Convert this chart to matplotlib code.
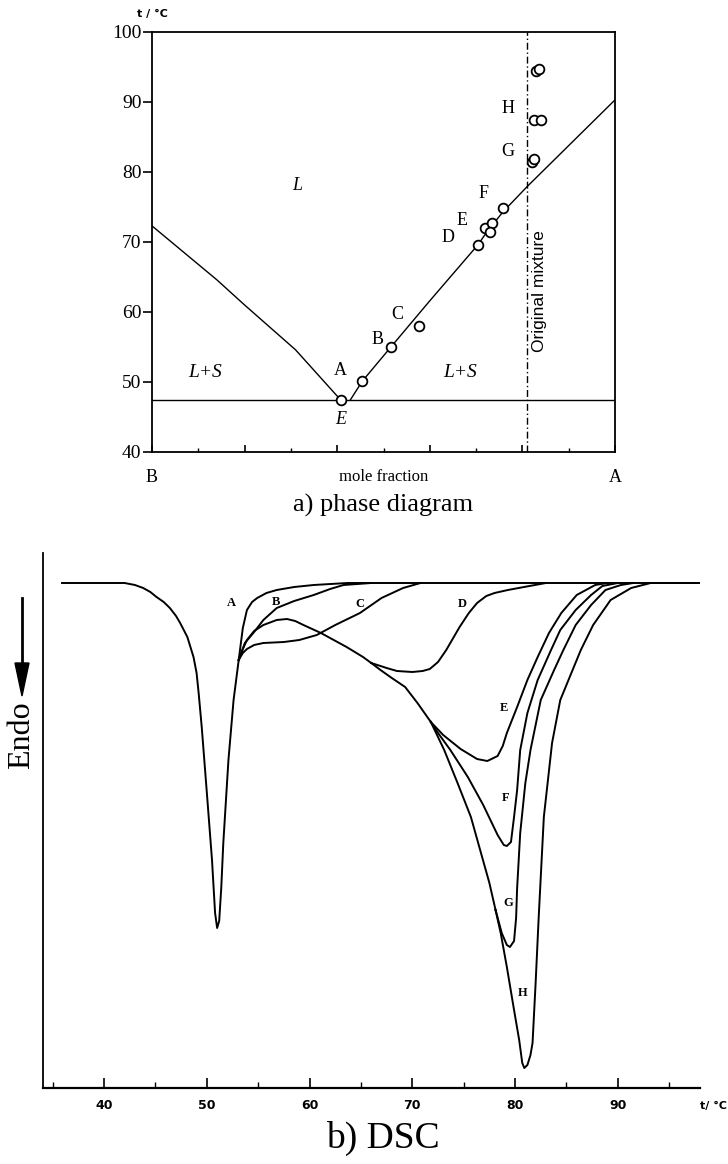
import matplotlib
matplotlib.use("Agg")
import matplotlib.pyplot as plt
from matplotlib.ticker import MultipleLocator

# ---------------- data: phase diagram ----------------
yticks_pd = [40, 50, 60, 70, 80, 90, 100]
liq_left_x = [0.0, 0.14, 0.20, 0.31, 0.408]
liq_left_t = [72.3, 64.6, 61.0, 54.6, 47.4]
liq_right_x = [0.428, 0.454, 0.516, 0.60, 0.704, 0.725, 0.758, 0.81, 1.0]
liq_right_t = [47.4, 50.1, 55.0, 61.6, 69.6, 71.6, 74.3, 77.9, 90.3]
eutectic_t = 47.4
original_x = 0.81
pts_x = [0.408, 0.454, 0.516, 0.577, 0.704, 0.720, 0.735, 0.731, 0.758,
         0.820, 0.824, 0.826, 0.840, 0.829, 0.836]
pts_t = [47.4, 50.1, 55.0, 58.0, 69.6, 72.0, 72.7, 71.4, 74.9,
         81.5, 81.9, 87.5, 87.5, 94.4, 94.7]
pt_labels = ["A", "B", "C", "D", "E", "F", "G", "H"]
pt_label_x = [0.406, 0.488, 0.529, 0.640, 0.670, 0.715, 0.769, 0.769]
pt_label_t = [51.7, 56.0, 59.6, 70.6, 73.1, 77.0, 82.9, 89.1]

# ---------------- data: DSC ----------------
xticks_dsc = [40, 50, 60, 70, 80, 90]
common_T = [35.9, 42.0, 43.0, 43.8, 44.5, 45.1, 45.8, 46.4, 47.0, 47.4, 48.1, 48.7,
            49.0, 49.2, 49.5, 50.0, 50.5, 50.8, 51.0, 51.2, 51.4, 51.6, 52.1, 52.6, 53.1]
common_y = [0, 0, -0.02, -0.05, -0.09, -0.14, -0.19, -0.25, -0.33, -0.40, -0.54, -0.74,
            -0.90, -1.10, -1.44, -2.10, -2.77, -3.30, -3.45, -3.38, -3.05, -2.60, -1.77,
            -1.17, -0.77]
A_T = [53.1, 53.5, 53.9, 54.4, 54.9, 55.8, 56.8, 58.5, 60.4, 63.7, 98.0]
A_y = [-0.77, -0.45, -0.27, -0.19, -0.15, -0.10, -0.07, -0.04, -0.02, 0, 0]
B_T = [53.1, 53.7, 54.6, 55.5, 56.8, 58.5, 60.4, 62.0, 63.3, 66.0]
B_y = [-0.77, -0.60, -0.49, -0.37, -0.25, -0.18, -0.12, -0.06, -0.02, 0]
C_T = [53.1, 53.5, 53.9, 54.6, 55.5, 57.5, 59.0, 60.7, 62.5, 64.9, 67.0, 69.1, 70.8]
C_y = [-0.77, -0.70, -0.66, -0.62, -0.60, -0.59, -0.57, -0.52, -0.42, -0.30, -0.15, -0.05, 0]
hump_T = [53.1, 53.5, 53.9, 54.6, 55.5, 56.8, 57.8, 58.6, 59.4, 61.1, 63.6, 65.2, 66.0]
hump_y = [-0.77, -0.66, -0.57, -0.48, -0.42, -0.37, -0.36, -0.38, -0.42, -0.50, -0.64, -0.74, -0.80]
D_T = [66.0, 67.5, 68.5, 70.0, 71.0, 71.7, 72.5, 73.3, 74.6, 75.5, 76.3, 77.2, 78.0, 79.3, 81.4, 83.0]
D_y = [-0.80, -0.85, -0.88, -0.89, -0.88, -0.86, -0.79, -0.67, -0.44, -0.30, -0.20, -0.13, -0.10,
       -0.07, -0.03, 0]
grp_T = [66.0, 66.9, 68.0, 69.3, 70.5, 71.8]
grp_y = [-0.80, -0.87, -0.95, -1.04, -1.20, -1.39]
E_T = [71.8, 73.0, 74.7, 76.3, 77.3, 78.3, 78.8, 79.2, 79.7, 80.2, 81.2, 82.2, 83.3, 84.5,
       86.0, 87.8, 89.0]
E_y = [-1.39, -1.52, -1.66, -1.76, -1.78, -1.73, -1.63, -1.50, -1.37, -1.24, -0.97, -0.74,
       -0.50, -0.30, -0.12, -0.02, 0]
F_T = [71.8, 72.5, 73.7, 75.4, 76.9, 78.3, 78.9, 79.2, 79.6, 79.9, 80.2, 80.5, 81.2, 82.2,
       83.5, 84.4, 85.9, 87.4, 88.5, 90.0]
F_y = [-1.39, -1.50, -1.67, -1.94, -2.22, -2.52, -2.62, -2.63, -2.59, -2.34, -2.07, -1.67, -1.30,
       -0.97, -0.67, -0.47, -0.27, -0.12, -0.03, 0]
GH_T = [71.8, 73.1, 74.4, 75.7, 76.6, 77.5, 78.1]
GH_y = [-1.39, -1.67, -2.00, -2.34, -2.67, -3.00, -3.27]
G_T = [78.1, 78.7, 79.2, 79.5, 79.9, 80.1, 80.2, 80.5, 81.0, 81.5, 82.5, 83.8, 84.7, 85.9, 87.4,
       88.8, 90.3, 91.5]
G_y = [-3.27, -3.50, -3.62, -3.64, -3.58, -3.35, -3.05, -2.50, -2.00, -1.67, -1.17, -0.87, -0.67,
       -0.42, -0.22, -0.07, -0.02, 0]
H_T = [78.1, 78.6, 79.2, 79.9, 80.4, 80.7, 80.9, 81.2, 81.5, 81.7, 82.0, 82.3, 82.8, 83.6,
       84.4, 86.4, 87.6, 89.3, 91.3, 93.2, 98.0]
H_y = [-3.27, -3.50, -3.84, -4.27, -4.57, -4.80, -4.85, -4.82, -4.72, -4.60, -4.00, -3.34,
       -2.34, -1.60, -1.17, -0.67, -0.42, -0.17, -0.05, 0, 0]
dsc_labels = ["A", "B", "C", "D", "E", "F", "G", "H"]
dsc_label_T = [52.4, 56.7, 64.9, 74.9, 78.9, 79.1, 79.3, 80.7]
dsc_label_y = [-0.20, -0.19, -0.21, -0.21, -1.25, -2.15, -3.20, -4.10]

# ---------------- figure ----------------
W, H = 728, 1164
fig = plt.figure(figsize=(W / 100, H / 100), dpi=100)
serif = ["Liberation Serif", "DejaVu Serif"]
plt.rcParams["font.family"] = serif

def ax_rect(l, t, r, b):
    return [l / W, 1 - b / H, (r - l) / W, (b - t) / H]

# ---- phase diagram ----
ax1 = fig.add_axes(ax_rect(152, 32, 615, 452))
lw = 1.0
ax1.plot(liq_left_x, liq_left_t, color="black", lw=lw)
ax1.plot(liq_right_x, liq_right_t, color="black", lw=lw)
ax1.axhline(eutectic_t, color="black", lw=lw)
ax1.axvline(original_x, color="black", lw=1.0, ls=(0, (5, 2, 1, 2)))
ax1.plot(pts_x, pts_t, ls="none", marker="o", ms=7, mfc="white", mec="black", mew=1.3)
for s, x, t in zip(pt_labels, pt_label_x, pt_label_t):
    ax1.text(x, t, s, ha="center", va="center", fontsize=13)
ax1.text(0.408, 44.6, "E", ha="center", va="center", fontsize=13, style="italic")
ax1.text(0.313, 78.0, "L", ha="center", va="center", fontsize=13, style="italic")
ax1.text(0.115, 51.3, "L+S", ha="center", va="center", fontsize=14, style="italic")
ax1.text(0.665, 51.3, "L+S", ha="center", va="center", fontsize=14, style="italic")
ax1.text(0.836, 63.0, "Original mixture", rotation=90, ha="center", va="center",
         fontsize=12.5, family=["Liberation Sans", "DejaVu Sans"])
ax1.set_xlim(0, 1)
ax1.set_ylim(40, 100)
ax1.set_yticks(yticks_pd)
ax1.tick_params(axis="y", direction="out", length=6.5, width=1.2, labelsize=14, pad=1)
ax1.xaxis.set_major_locator(MultipleLocator(0.2))
ax1.xaxis.set_minor_locator(MultipleLocator(0.1))
ax1.tick_params(axis="x", which="major", direction="in", length=5, width=1.2, labelbottom=False)
ax1.tick_params(axis="x", which="minor", direction="in", length=3, width=1.0)
for sp in ax1.spines.values():
    sp.set_linewidth(1.3)
ax1.text(0.0, -0.04, "B", transform=ax1.transAxes, ha="center", va="top", fontsize=13)
ax1.text(1.0, -0.04, "A", transform=ax1.transAxes, ha="center", va="top", fontsize=13)
ax1.text(0.5, -0.04, "mole fraction", transform=ax1.transAxes, ha="center", va="top", fontsize=12)
ax1.text(0.0, 1.03, "t / \u00b0C", transform=ax1.transAxes, ha="center", va="bottom",
         fontsize=8, fontweight="bold", family=["DejaVu Sans"])
fig.text(383 / W, 1 - 505 / H, "a) phase diagram", ha="center", va="center", fontsize=19)

# ---- DSC ----
ax2 = fig.add_axes(ax_rect(43, 553, 700, 1088))
clw = 1.4
ax2.plot(common_T, common_y, color="black", lw=clw, solid_joinstyle="round")
for T, y in [(A_T, A_y), (B_T, B_y), (C_T, C_y), (hump_T, hump_y), (D_T, D_y),
             (grp_T, grp_y), (E_T, E_y), (F_T, F_y), (GH_T, GH_y), (G_T, G_y), (H_T, H_y)]:
    ax2.plot(T, y, color="black", lw=clw, solid_joinstyle="round")
for s, T, y in zip(dsc_labels, dsc_label_T, dsc_label_y):
    ax2.text(T, y, s, ha="center", va="center", fontsize=9, fontweight="bold")
ax2.set_xlim(34.05, 98.0)
ax2.set_ylim(-5.05, 0.30)
ax2.set_xticks(xticks_dsc)
ax2.xaxis.set_minor_locator(MultipleLocator(5))
ax2.tick_params(axis="x", which="major", direction="in", length=7, width=1.2,
                labelsize=9, pad=8)
ax2.tick_params(axis="x", which="minor", direction="in", length=4, width=1.0)
for lab in ax2.get_xticklabels():
    lab.set_fontweight("bold")
    lab.set_family(["DejaVu Sans"])
ax2.set_yticks([])
ax2.spines["top"].set_visible(False)
ax2.spines["right"].set_visible(False)
ax2.spines["left"].set_linewidth(1.3)
ax2.spines["bottom"].set_linewidth(1.6)
fig.text(700 / W, 1 - 1106 / H, "t/ \u00b0C", ha="left", va="center",
         fontsize=8, fontweight="bold", family=["DejaVu Sans"])
fig.text(22 / W, 1 - 735 / H, "Endo", rotation=90, ha="center", va="center", fontsize=23)
fig.add_artist(plt.Line2D([22 / W, 22 / W], [1 - 598 / H, 1 - 668 / H], color="black", lw=2))
fig.patches.append(plt.Polygon([[15 / W, 1 - 663 / H], [29 / W, 1 - 663 / H], [22 / W, 1 - 696 / H]],
                               closed=True, color="black", transform=fig.transFigure))
fig.text(383 / W, 1 - 1138 / H, "b) DSC", ha="center", va="center", fontsize=27)

fig.savefig("out.png", dpi=100)
